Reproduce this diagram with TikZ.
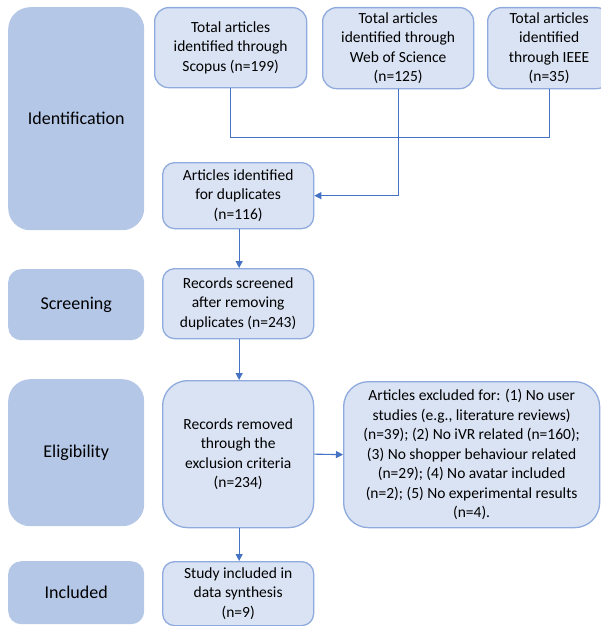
\documentclass[tikz,border=0pt]{standalone}
\usepackage{fontspec}
\setmainfont{Carlito}
\usetikzlibrary{arrows.meta}
\definecolor{stagec}{HTML}{B4C7E7}
\definecolor{boxfill}{HTML}{DAE3F3}
\definecolor{boxline}{HTML}{8FAADC}
\definecolor{arrowc}{HTML}{4472C4}
\tikzset{
  basebox/.style={anchor=north west, inner sep=0pt, align=center,
    font=\fontsize{15.5}{19.5}\selectfont, text=black},
  stagebox/.style={basebox, fill=stagec, draw=none, rounded corners=#1,
    font=\fontsize{18}{22}\selectfont},
  infobox/.style={basebox, fill=boxfill, draw=boxline, line width=1.3pt, rounded corners=#1},
  link/.style={draw=arrowc, line width=1.1pt},
  arrowlink/.style={link, -{Triangle[width=7pt,length=7pt]}},
}
\begin{document}
\begin{tikzpicture}[x=1pt,y=-1pt]
\useasboundingbox (0,0) rectangle (600,626);
% stage boxes
\node[stagebox=22pt, minimum width=136pt, minimum height=223pt] (ident) at (8,7) {Identification};
\node[stagebox=13pt, minimum width=136pt, minimum height=71pt] (screen) at (8,269) {Screening};
\node[stagebox=22pt, minimum width=136pt, minimum height=147pt] (elig) at (8,379) {Eligibility};
\node[stagebox=13pt, minimum width=136pt, minimum height=63pt] (incl) at (8,561) {Included};
% info boxes
\node[infobox=14pt, minimum width=152pt, minimum height=80pt] (scopus) at (154,7) {Total articles\\identified through\\Scopus (n=199)};
\node[infobox=14pt, minimum width=151pt, minimum height=81pt] (wos) at (322,7) {Total articles\\identified through\\Web of Science\\(n=125)};
\node[infobox=14pt, minimum width=123pt, minimum height=81pt] (ieee) at (487,7) {Total articles\\identified\\through IEEE\\(n=35)};
\node[infobox=12pt, minimum width=151pt, minimum height=66pt] (dup) at (162,162) {Articles identified\\for duplicates\\(n=116)};
\node[infobox=12pt, minimum width=151pt, minimum height=70pt] (screened) at (162,268) {Records screened\\after removing\\duplicates (n=243)};
\node[infobox=25pt, minimum width=151pt, minimum height=147pt] (removed) at (162,380) {Records removed\\through the\\exclusion criteria\\(n=234)};
\node[infobox=25pt, minimum width=256pt, minimum height=146pt] (excluded) at (343,381) {Articles excluded for: (1) No user\\studies (e.g., literature reviews)\\(n=39); (2) No iVR related (n=160);\\(3) No shopper behaviour related\\(n=29); (4) No avatar included\\(n=2); (5) No experimental results\\(n=4).};
\node[infobox=12pt, minimum width=151pt, minimum height=64pt] (included) at (162,561) {Study included in\\data synthesis\\(n=9)};
% connectors
\coordinate (j1) at ([yshift=-49pt]scopus.south);
\draw[link] (scopus.south) -- (j1) -| (ieee.south);
\draw[arrowlink] (wos.south) |- (dup.east);
\draw[arrowlink] ([xshift=1pt]dup.south) -- ([xshift=1pt]screened.north);
\draw[arrowlink] ([xshift=1pt]screened.south) -- ([xshift=1pt]removed.north);
\draw[arrowlink] (removed.east) -- (excluded.west);
\draw[arrowlink] ([xshift=1pt]removed.south) -- ([xshift=1pt]included.north);
\end{tikzpicture}
\end{document}
